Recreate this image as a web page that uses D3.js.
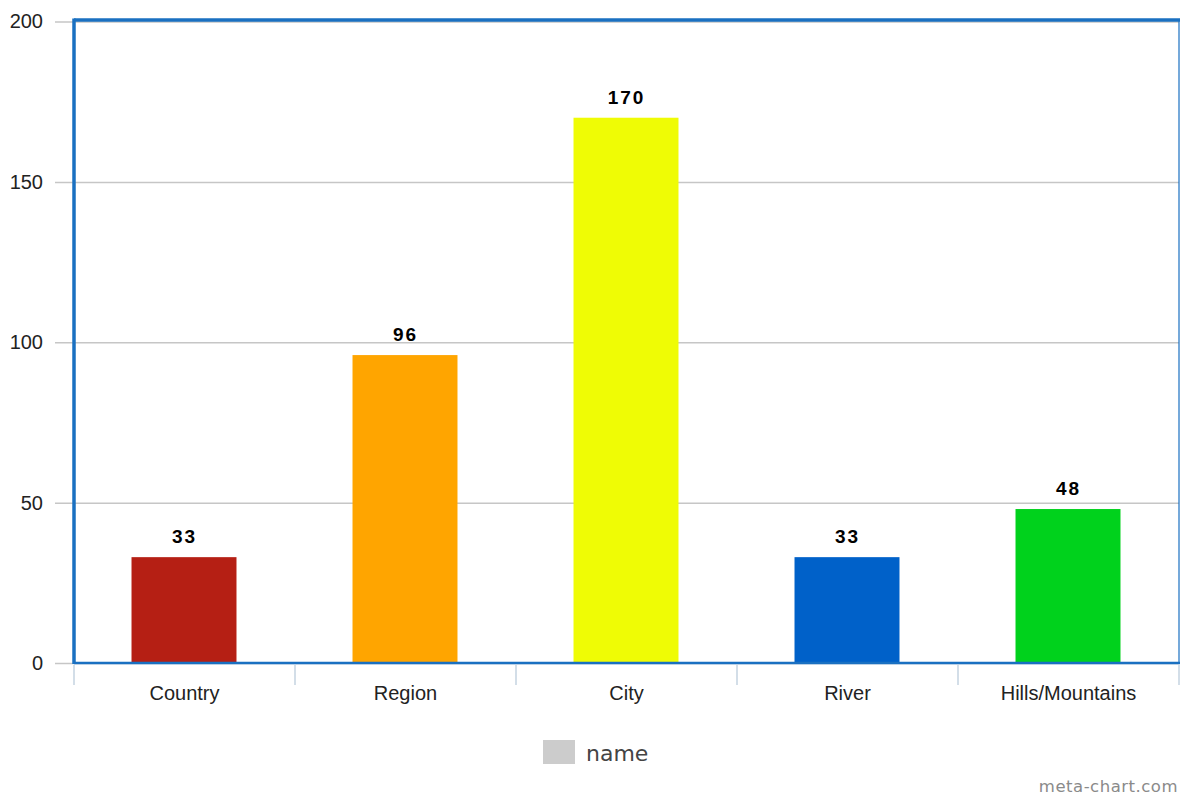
<!DOCTYPE html>
<html>
<head>
<meta charset="utf-8">
<script src="https://cdn.jsdelivr.net/npm/d3@7"></script>
<style>
  body { margin: 0; background: #fff; }
  svg { display: block; }
</style>
</head>
<body>
<svg id="chart" width="1180" height="798"></svg>
<script>
const categories = ['Country', 'Region', 'City', 'River', 'Hills/Mountains'];
const values = [33, 96, 170, 33, 48];
const barColors = ['#b51f14', '#ffa500', '#effc05', '#0061c9', '#00d21c'];
const yTicks = [0, 50, 100, 150, 200];
const legendLabel = 'name';

const svg = d3.select('#chart');
const m = { left: 74, top: 20, right: 1179, bottom: 663 };

const x = d3.scaleBand()
  .domain(categories)
  .range([m.left, m.right])
  .paddingInner(0)
  .paddingOuter(0);

const y = d3.scaleLinear().domain([0, 200]).range([m.bottom, m.top + 1.5]);

// gridlines + y labels
const yAxis = d3.axisLeft(y)
  .tickValues(yTicks)
  .tickSize(-(m.right - m.left) - 19)
  .tickPadding(12)
  .tickFormat(d3.format('d'));

const gy = svg.append('g')
  .attr('transform', `translate(${m.left - 19},0)`)
  .call(yAxis);
gy.select('.domain').remove();
gy.selectAll('.tick line')
  .attr('stroke', '#c6c6c6')
  .attr('stroke-width', 1.5);
gy.selectAll('.tick text')
  .attr('x', -12)
  .attr('fill', '#222')
  .style('font-family', 'Liberation Sans, Arial, sans-serif')
  .style('font-size', '20px');

// x axis separators and labels
const gx = svg.append('g').attr('transform', `translate(0,${m.bottom})`);
const seps = categories.map((c) => x(c)).concat([m.right]);
gx.selectAll('line.sep')
  .data(seps)
  .enter()
  .append('line')
  .attr('class', 'sep')
  .attr('x1', (d) => d)
  .attr('x2', (d) => d)
  .attr('y1', 2)
  .attr('y2', 22)
  .attr('stroke', '#c5d3e0')
  .attr('stroke-width', 1.5);

gx.selectAll('text.cat')
  .data(categories)
  .enter()
  .append('text')
  .attr('class', 'cat')
  .attr('x', (d) => x(d) + x.bandwidth() / 2)
  .attr('y', 37)
  .attr('text-anchor', 'middle')
  .attr('fill', '#222')
  .style('font-family', 'Liberation Sans, Arial, sans-serif')
  .style('font-size', '20px')
  .text((d) => d);

// bars
const barW = x.bandwidth() * 0.475;
svg.append('g')
  .selectAll('rect')
  .data(categories)
  .enter()
  .append('rect')
  .attr('x', (d) => x(d) + (x.bandwidth() - barW) / 2 - 0.5)
  .attr('y', (d, i) => y(values[i]))
  .attr('width', barW)
  .attr('height', (d, i) => y(0) - y(values[i]))
  .attr('fill', (d, i) => barColors[i]);

// value labels
svg.append('g')
  .selectAll('text')
  .data(categories)
  .enter()
  .append('text')
  .attr('x', (d) => x(d) + x.bandwidth() / 2)
  .attr('y', (d, i) => y(values[i]) - 14)
  .attr('text-anchor', 'middle')
  .attr('fill', '#000')
  .style('font-family', 'Liberation Sans, Arial, sans-serif')
  .style('font-size', '19px')
  .style('font-weight', 'bold')
  .style('letter-spacing', '2px')
  .text((d, i) => values[i]);

// frame
const blue = '#1a70c1';
svg.append('line')
  .attr('x1', m.left).attr('x2', 1180)
  .attr('y1', m.top).attr('y2', m.top)
  .attr('stroke', blue).attr('stroke-width', 3.5);
svg.append('line')
  .attr('x1', m.left).attr('x2', m.left)
  .attr('y1', m.top - 1.5).attr('y2', m.bottom + 1)
  .attr('stroke', blue).attr('stroke-width', 3.5);
svg.append('line')
  .attr('x1', m.right).attr('x2', m.right)
  .attr('y1', m.top).attr('y2', m.bottom)
  .attr('stroke', blue).attr('stroke-width', 1.2);
svg.append('line')
  .attr('x1', m.left).attr('x2', m.right + 1)
  .attr('y1', m.bottom).attr('y2', m.bottom)
  .attr('stroke', blue).attr('stroke-width', 2.5);

// legend
const lg = svg.append('g').attr('transform', 'translate(543,740)');
lg.append('rect').attr('width', 32).attr('height', 24).attr('fill', '#cccccc');
lg.append('text')
  .attr('x', 43)
  .attr('y', 21)
  .attr('fill', '#444')
  .style('font-family', 'DejaVu Sans, sans-serif')
  .style('font-size', '22px')
  .text(legendLabel);

// watermark
svg.append('text')
  .attr('x', 1178)
  .attr('y', 792)
  .attr('text-anchor', 'end')
  .attr('fill', '#8a8a8a')
  .style('font-family', 'DejaVu Sans, sans-serif')
  .style('font-size', '16.5px')
  .style('letter-spacing', '0.5px')
  .text('meta-chart.com');
</script>
</body>
</html>
